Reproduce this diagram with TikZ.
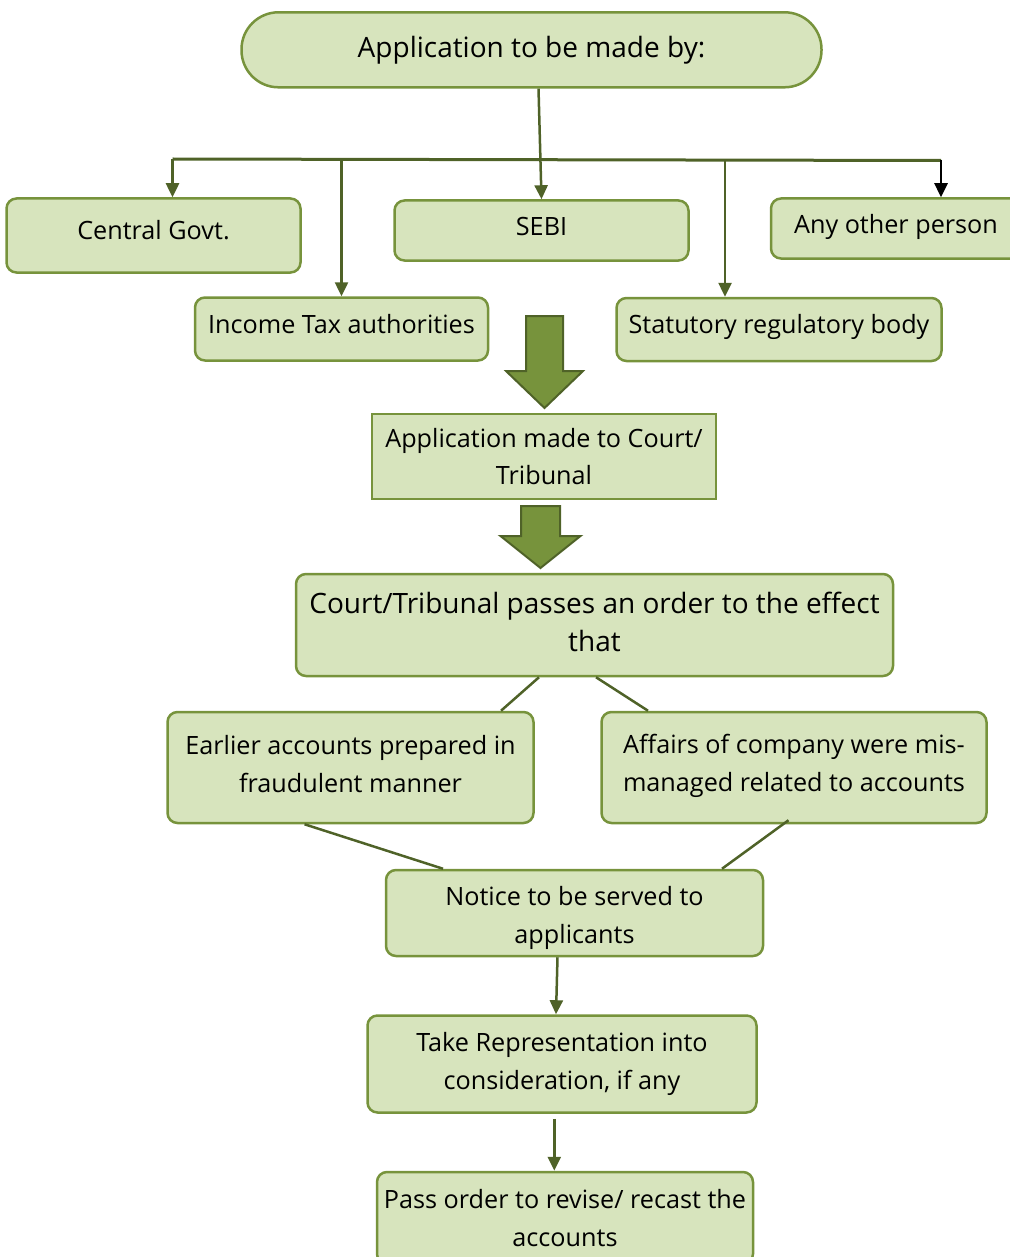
\documentclass[tikz,border=0pt]{standalone}
\usepackage{fontspec}
\setmainfont{Open Sans}
\usetikzlibrary{arrows.meta}
\definecolor{boxfill}{HTML}{D7E4BD}
\definecolor{boxline}{HTML}{77933C}
\definecolor{connline}{HTML}{4F6228}
\tikzset{
  rbox/.style={draw=boxline, fill=boxfill, line width=2.5pt, rounded corners=10pt, inner sep=0pt},
  sbox/.style={rbox, rounded corners=0pt, line width=2pt},
  txt/.style={inner sep=0pt, align=center, font=\fontsize{25.2}{37.5}\selectfont},
  bigtxt/.style={txt, font=\fontsize{28}{38}\selectfont},
  conn/.style={draw=connline, line width=2.5pt},
  connarrow/.style={conn, -{Triangle[length=14pt,width=13pt]}},
  blackarrow/.style={draw=black, line width=2.5pt, -{Triangle[length=14pt,width=13pt]}},
  blockarrow/.style={draw=connline, fill=boxline, line width=2pt, line join=miter}
}
\begin{document}
\begin{tikzpicture}[x=1pt,y=-1pt]
\useasboundingbox (0,0) rectangle (1009,1257);
% boxes
\node[rbox, rounded corners=37pt, minimum width=580, minimum height=75] (top) at (531.5,49.8) {};
\node[rbox, minimum width=294, minimum height=74] (cg) at (153.5,235.5) {};
\node[rbox, minimum width=294, minimum height=60] (sebi) at (541.5,230.5) {};
\node[rbox, minimum width=250, minimum height=60] (aop) at (896,228.5) {};
\node[rbox, minimum width=293, minimum height=63] (ita) at (341.5,329) {};
\node[rbox, minimum width=325, minimum height=63] (srb) at (779,329.5) {};
\node[sbox, minimum width=344, minimum height=85] (amc) at (544,456.5) {};
\node[rbox, minimum width=597, minimum height=102] (court) at (594.5,625) {};
\node[rbox, minimum width=366, minimum height=111] (ear) at (350.5,767.5) {};
\node[rbox, minimum width=385, minimum height=111] (aff) at (794,767.5) {};
\node[rbox, minimum width=377, minimum height=86] (note) at (574.5,913) {};
\node[rbox, minimum width=389, minimum height=97] (take) at (562,1064) {};
\node[rbox, minimum width=376, minimum height=92] (pass) at (565,1218) {};
% texts
\node[bigtxt] (topt) at (top.center) {Application to be made by:};
\node[txt] (cgt) at ([yshift=5pt]cg.center) {Central Govt.};
\node[txt] (sebit) at ([yshift=4pt]sebi.center) {SEBI};
\node[txt] (aopt) at ([yshift=2pt]aop.center) {Any other person};
\node[txt] (itat) at ([yshift=5pt]ita.center) {Income Tax authorities};
\node[txt] (srbt) at ([yshift=3pt]srb.center) {Statutory regulatory body};
\node[txt] (amct) at (amc.center) {Application made to Court/\\Tribunal};
\node[bigtxt] (courtt) at ([yshift=3pt]court.center) {Court/Tribunal passes an order to the effect\\that};
\node[txt] (eart) at ([yshift=3.5pt]ear.center) {Earlier accounts prepared in\\fraudulent manner};
\node[txt] (afft) at ([yshift=1.5pt]aff.center) {Affairs of company were mis-\\managed related to accounts};
\node[txt] (notet) at ([yshift=-5pt]note.center) {Notice to be served to\\applicants};
\node[txt] (taket) at (take.center) {Take Representation into\\consideration, if any};
\node[txt] (passt) at (pass.center) {Pass order to revise/ recast the\\accounts};
% bar of the tree
\coordinate (barL) at (172.5,159);
\coordinate (barR) at (941,160.5);
\coordinate (barS) at (725,160);
\draw[conn, line width=3pt] (barL) -- (barR);
\draw[connarrow] ([xshift=7pt]top.south) -- (sebi.north);
\draw[connarrow] (barL) -- (barL |- cg.north);
\draw[connarrow] (ita.north |- barL) -- (ita.north);
\draw[connarrow] (barS) -- (barS |- srb.north);
\draw[blackarrow] (barR) -- (barR |- aop.north);
% block arrows
\draw[blockarrow] (526,316) -- (563,316) -- (563,371) -- (583,371) -- (544.5,408) -- (506,371) -- (526,371) -- cycle;
\draw[blockarrow] (521,506) -- (560,506) -- (560,536) -- (580.5,536) -- (540.5,568) -- (500.5,536) -- (521,536) -- cycle;
% diagonal links
\draw[conn] ([xshift=-55.5pt]court.south) -- ([xshift=150.5pt]ear.north);
\draw[conn] ([xshift=1.5pt]court.south) -- ([xshift=-146pt]aff.north);
\draw[conn] ([xshift=-46pt]ear.south) -- ([xshift=-131.5pt]note.north);
\draw[conn] ([xshift=-5.5pt,yshift=4pt]aff.south) -- ([xshift=147.5pt]note.north);
% lower arrows
\draw[connarrow] ([xshift=-17pt]note.south) -- ([xshift=-6pt]take.north);
\draw[connarrow] ([xshift=-7.7pt,yshift=-5pt]take.south) -- ([xshift=-10.7pt]pass.north);
\end{tikzpicture}
\end{document}
